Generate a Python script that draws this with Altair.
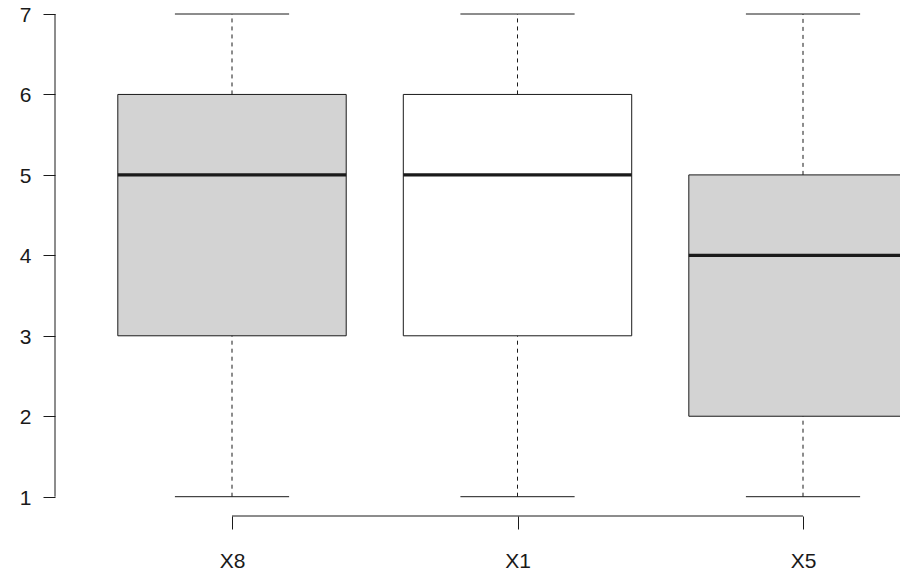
import json
import altair as alt
import pandas as pd

categories = ["X8", "X1", "X5"]
lower_whisker = [1, 1, 1]
q1 = [3, 3, 2]
median = [5, 5, 4]
q3 = [6, 6, 5]
upper_whisker = [7, 7, 7]
box_fills = ["#D3D3D3", "#FFFFFF", "#D3D3D3"]
y_ticks = [1, 2, 3, 4, 5, 6, 7]

BOX_HALF = 0.4
CAP_HALF = 0.2
X_MIN, X_MAX = 0.38, 3.3397
Y_MIN, Y_MAX = 0.76, 7.0

pos = list(range(1, len(categories) + 1))
df = pd.DataFrame({
    "cat": categories,
    "pos": pos,
    "lo": lower_whisker,
    "q1": q1,
    "med": median,
    "q3": q3,
    "hi": upper_whisker,
})
df["bl"] = df["pos"] - BOX_HALF
df["br"] = df["pos"] + BOX_HALF
df["cl"] = df["pos"] - CAP_HALF
df["cr"] = df["pos"] + CAP_HALF

FONT = "Liberation Sans"
INK = "#1a1a1a"

xscale = alt.Scale(domain=[X_MIN, X_MAX], nice=False, zero=False)
yscale = alt.Scale(domain=[Y_MIN, Y_MAX], nice=False, zero=False)

label_expr = json.dumps(categories) + "[datum.value - 1]"

xaxis = alt.Axis(values=pos, labelExpr=label_expr, domain=False, grid=False,
                 tickSize=13, tickColor=INK, tickWidth=1, labelFont=FONT,
                 labelFontSize=21, labelColor=INK, labelPadding=32,
                 labelBaseline="middle", title=None)
yaxis = alt.Axis(values=y_ticks, domain=False, grid=False, tickSize=12,
                 tickColor=INK, tickWidth=1, labelFont=FONT, labelFontSize=21,
                 labelColor=INK, labelPadding=12, labelBaseline="middle",
                 labelOffset=1.5, format="d", title=None)

base = alt.Chart(df)

boxes = base.mark_rect(stroke=INK, strokeWidth=1, clip=True).encode(
    x=alt.X("bl:Q", scale=xscale, axis=xaxis),
    x2="br:Q",
    y=alt.Y("q1:Q", scale=yscale, axis=yaxis),
    y2="q3:Q",
    fill=alt.Fill("cat:N", scale=alt.Scale(domain=categories, range=box_fills), legend=None),
)

medians = base.mark_rule(color=INK, strokeWidth=3.3, clip=True).encode(
    x="bl:Q", x2="br:Q", y="med:Q"
)

upper_w = base.mark_rule(color=INK, strokeWidth=1, strokeDash=[4, 4]).encode(
    x="pos:Q", y="q3:Q", y2="hi:Q"
)
lower_w = base.mark_rule(color=INK, strokeWidth=1, strokeDash=[4, 4]).encode(
    x="pos:Q", y="lo:Q", y2="q1:Q"
)
cap_hi = base.mark_rule(color=INK, strokeWidth=1).encode(x="cl:Q", x2="cr:Q", y="hi:Q")
cap_lo = base.mark_rule(color=INK, strokeWidth=1).encode(x="cl:Q", x2="cr:Q", y="lo:Q")

yline_df = pd.DataFrame({"x": [X_MIN], "y": [min(y_ticks)], "y2": [max(y_ticks)]})
yline = alt.Chart(yline_df).mark_rule(color=INK, strokeWidth=1).encode(
    x="x:Q", y="y:Q", y2="y2:Q"
)
xline_df = pd.DataFrame({"x": [min(pos)], "x2": [max(pos)], "y": [Y_MIN]})
xline = alt.Chart(xline_df).mark_rule(color=INK, strokeWidth=1).encode(
    x="x:Q", x2="x2:Q", y="y:Q"
)

chart = alt.layer(boxes, upper_w, lower_w, cap_hi, cap_lo, medians, yline, xline).properties(
    width=845,
    height=502,
    padding={"left": 47, "top": 6, "right": 0, "bottom": 56},
    autosize=alt.AutoSizeParams(type="none"),
    background="white",
).configure_view(stroke=None)

chart.save("out.html", embed_options={"renderer": "svg", "actions": False})
